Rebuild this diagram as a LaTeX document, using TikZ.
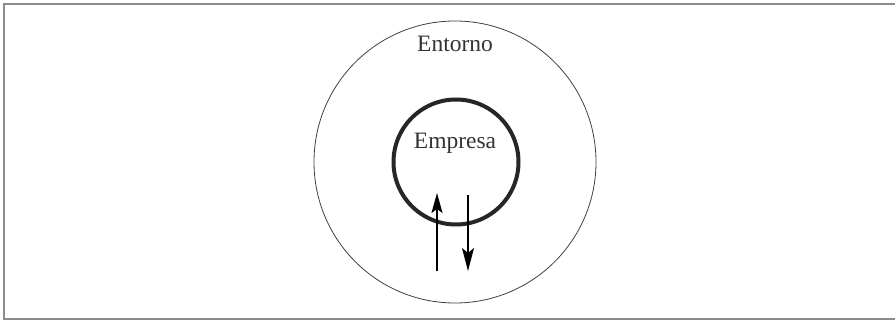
\documentclass[tikz,border=0pt]{standalone}
\usepackage{fontspec}
\setmainfont{Liberation Serif}
\usetikzlibrary{arrows.meta}
\tikzset{
  ring/.style={circle, draw=black!75, line width=0.8pt, inner sep=0pt},
  firm/.style={circle, draw=black!85, line width=4pt, inner sep=0pt},
  lbl/.style={anchor=base, text=black!80, font=\fontsize{23.5}{28}\selectfont},
  flowin/.style={line width=2pt, -{Stealth[length=20pt, width=11pt, inset=4pt]}},
  flowout/.style={line width=1.2pt, -{Stealth[length=23pt, width=12pt, inset=5pt]}}
}
\begin{document}
\begin{tikzpicture}[x=1pt, y=-1pt]
\useasboundingbox (0,0) rectangle (895,321);

% ---- frame, open on the right ----
\draw[black!45, line width=1.3pt] (895,4) -- (4,4) -- (4,319) -- (895,319);

% ---- environment and firm ----
\node[ring, minimum size=282pt] (entorno) at (455,162) {};
\node[firm, minimum size=125pt] (empresa) at (456,162) {};
\node[lbl] (entornoTxt) at (455,52) {Entorno};
\node[lbl] (empresaTxt) at (455,148) {Empresa};

% ---- exchanges between firm and environment ----
\coordinate (inFrom) at (437,271);
\coordinate (inTo) at (437,193);
\coordinate (outFrom) at (468,195);
\coordinate (outTo) at (468,271);
\draw[flowin] (inFrom) -- (inTo);
\draw[flowout] (outFrom) -- (outTo);

\end{tikzpicture}
\end{document}
